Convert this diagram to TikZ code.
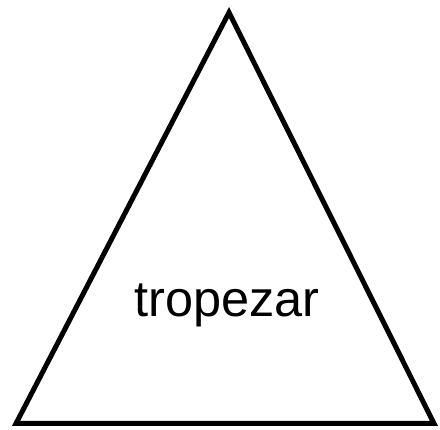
\documentclass[tikz,border=0pt]{standalone}
\usepackage{fontspec}
\setmainfont{Liberation Sans}
\begin{document}
\begin{tikzpicture}[x=1pt,y=-1pt,
  tri/.style={draw=black,line width=5pt,line join=miter},
  lbl/.style={font=\fontsize{50.5}{60}\selectfont,inner sep=0pt,anchor=base}]
\useasboundingbox (0,0) rectangle (440,430);
\coordinate (apex) at (229,12.5);
\coordinate (bl) at (16,423.5);
\coordinate (br) at (434,423.5);
\draw[tri] (apex) -- (bl) -- (br) -- cycle;
\node[lbl] (t) at (227,316.7) {tropezar};
\end{tikzpicture}
\end{document}
